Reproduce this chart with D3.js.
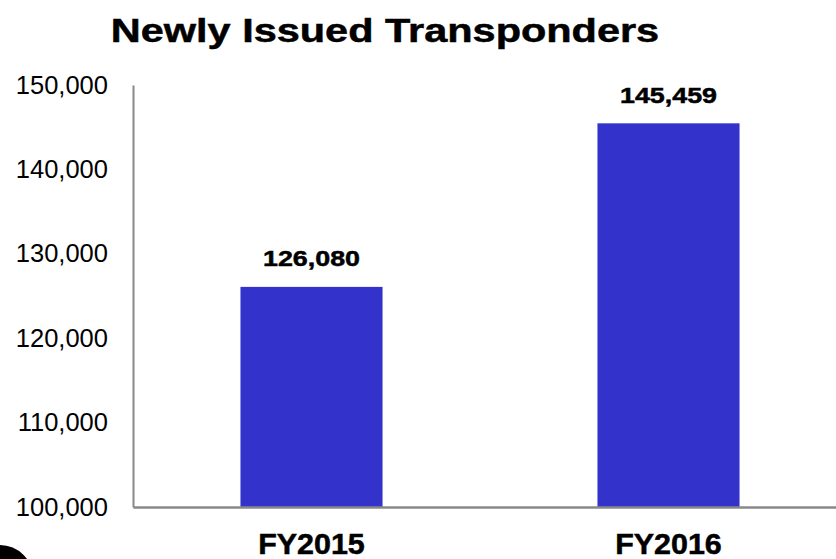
<!DOCTYPE html>
<html lang="en">
<head>
    <meta charset="UTF-8">
    <title>Newly Issued Transponders</title>
    <script src="https://d3js.org/d3.v7.min.js"></script>
    <style>
        body { margin: 0; background: #fff; }
        svg { display: block; font-family: "Liberation Sans", Arial, sans-serif; }
    </style>
</head>
<body>
<svg id="chart" width="836" height="559"></svg>

<script>
    var categories = ["FY2015", "FY2016"];
    var values = [126080, 145459];
    var valueLabels = ["126,080", "145,459"];
    var tickValues = [100000, 110000, 120000, 130000, 140000, 150000];

    var svg = d3.select("#chart");
    var axisColor = "#888888";
    var barColor = "#3333cc";

    var x = d3.scaleBand()
        .domain(categories)
        .range([133, 847])
        .paddingInner(0.602)
        .paddingOuter(0.301);

    var y = d3.scaleLinear()
        .domain([100000, 150000])
        .range([507, 85]);

    // the source picture was stretched sideways, so bold text gets a horizontal scale
    function stretched(sel, sx){
        sel.attr("transform", function(){
            var t = d3.select(this);
            var tx = +t.attr("x") || 0, ty = +t.attr("y") || 0;
            return "translate(" + tx + "," + ty + ") scale(" + sx + ",1)";
        }).attr("x", 0).attr("y", 0)
          .attr("stroke", "#000")
          .attr("stroke-width", 0.5);
    }

    // title
    svg.append("text")
        .attr("x", 385)
        .attr("y", 42)
        .attr("text-anchor", "middle")
        .attr("font-size", 34)
        .attr("font-weight", "bold")
        .text("Newly Issued Transponders")
        .call(stretched, 1.22);

    // bars
    svg.selectAll("rect.bar")
        .data(values)
        .enter().append("rect")
        .attr("class", "bar")
        .attr("x", function(d, i){ return x(categories[i]); })
        .attr("y", function(d){ return y(d); })
        .attr("width", x.bandwidth())
        .attr("height", function(d){ return y(100000) - y(d); })
        .attr("fill", barColor);

    // value labels
    svg.selectAll("text.val")
        .data(values)
        .enter().append("text")
        .attr("class", "val")
        .attr("x", function(d, i){ return x(categories[i]) + x.bandwidth() / 2; })
        .attr("y", function(d){ return y(d) - 20.5; })
        .attr("text-anchor", "middle")
        .attr("font-size", 22)
        .attr("font-weight", "bold")
        .text(function(d, i){ return valueLabels[i]; })
        .call(stretched, 1.22);

    // y axis
    var yAxis = svg.append("g")
        .attr("transform", "translate(133,0)")
        .call(d3.axisLeft(y)
            .tickValues(tickValues)
            .tickFormat(d3.format(","))
            .tickSize(0)
            .tickSizeOuter(0)
            .tickPadding(25));
    yAxis.select(".domain").attr("stroke", axisColor).attr("stroke-width", 2);
    yAxis.selectAll("text")
        .attr("font-size", 25.5)
        .attr("font-family", "Liberation Sans, Arial, sans-serif")
        .attr("fill", "#000");

    // x axis
    var xAxis = svg.append("g")
        .attr("transform", "translate(0,507)")
        .call(d3.axisBottom(x).tickSize(0).tickSizeOuter(0));
    xAxis.select(".domain").attr("stroke", axisColor).attr("stroke-width", 2.5);
    xAxis.selectAll("text")
        .attr("x", 0)
        .attr("y", 47)
        .attr("dy", null)
        .attr("font-size", 29)
        .attr("font-weight", "bold")
        .attr("font-family", "Liberation Sans, Arial, sans-serif")
        .attr("fill", "#000")
        .call(stretched, 1.05);

    // partial logo circle at bottom-left corner
    svg.append("circle")
        .attr("cx", 0)
        .attr("cy", 578)
        .attr("r", 33)
        .attr("fill", "#000");
</script>
</body>
</html>
